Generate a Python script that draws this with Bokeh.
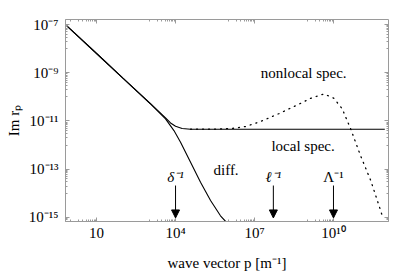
from bokeh.plotting import figure
from bokeh.models import (LogAxis, FixedTicker, Arrow, NormalHead, Range1d,
                          ColumnDataSource)
from bokeh.embed import file_html
from bokeh.resources import INLINE
from bokeh.core.properties import value

# ---------------- data ----------------
diff_p = [0.66, 10, 100, 1.12e3, 4.17e3, 8.7e3, 1.55e4, 3.72e4, 8.9e4, 2.14e5, 5.1e5, 8.5e5]
diff_r = [1.0e-7, 6.3e-9, 6.0e-10, 5.1e-11, 1.23e-11, 4.0e-12, 1.32e-12, 1.95e-13,
          2.9e-14, 5.0e-15, 1.17e-15, 6.3e-16]

local_p = [0.66, 10, 100, 1.12e3, 4.17e3, 6.46e3, 1.0e4, 1.78e4, 3.72e4, 8.9e11]
local_r = [1.0e-7, 6.3e-9, 6.0e-10, 5.2e-11, 1.35e-11, 8.3e-12, 6.0e-12, 4.9e-12,
           4.57e-12, 4.57e-12]

nonlocal_p = [3.72e4, 3.2e5, 1.6e6, 4.6e6, 1.7e7, 8.3e7, 4.2e8, 1.35e9, 4.3e9, 1.02e10,
              2.14e10, 4.5e10, 1.07e11, 2.6e11, 6.2e11, 7.1e11]
nonlocal_r = [4.57e-12, 4.57e-12, 5.0e-12, 5.9e-12, 9.5e-12, 2.0e-11, 4.6e-11, 8.7e-11,
              1.32e-10, 8.9e-11, 3.2e-11, 4.7e-12, 3.6e-13, 3.4e-14, 1.9e-15, 1.17e-15]

x_major = [1e1, 1e4, 1e7, 1e10]
x_major_labels = ["10", "10⁴", "10⁷", "10¹⁰"]
y_major = [1e-15, 1e-13, 1e-11, 1e-9, 1e-7]
y_major_labels = ["10⁻¹⁵", "10⁻¹³", "10⁻¹¹", "10⁻⁹", "10⁻⁷"]

arrow_p_italic = [1e4, 5.2e7]
arrow_labels_italic = ["δ⁻¹", "ℓ⁻¹"]
arrow_p_upright = [1e10]
arrow_labels_upright = ["Λ⁻¹"]
arrow_top = 2.1e-14
arrow_tip = 9.5e-16

curve_label_p = [8.3e5, 7.0e8, 7.4e8]
curve_label_r = [9.5e-14, 9.5e-13, 1.0e-9]
curve_labels = ["diff.", "local spec.", "nonlocal spec."]

x_title = "wave vector p [m⁻¹]"
y_title = "Im rₚ"

FONT = "Liberation Serif"
FS = "15px"
GRAY = "#9a9a9a"

# ---------------- ticks ----------------
x_minor = [j * m / 10 for m in x_major for j in range(1, 10)]
y_minor = [j * m / 10 for m in y_major for j in range(1, 10)]

p = figure(width=395, height=273, x_axis_type="log", y_axis_type="log",
           x_range=Range1d(10 ** -0.18, 10 ** 12.09),
           y_range=Range1d(10 ** -15.17, 10 ** -6.79),
           output_backend="svg", toolbar_location=None,
           min_border_left=65, min_border_right=7, min_border_top=19,
           min_border_bottom=52)

p.grid.visible = False
p.outline_line_color = GRAY
p.background_fill_color = "white"
p.border_fill_color = "white"


def style_main(ax):
    ax.axis_line_color = GRAY
    ax.major_tick_line_color = GRAY
    ax.minor_tick_line_color = GRAY
    ax.major_tick_in = 4
    ax.major_tick_out = 0
    ax.minor_tick_in = 2
    ax.minor_tick_out = 0
    ax.major_label_text_font = FONT
    ax.major_label_text_font_size = FS
    ax.major_label_text_color = "black"
    ax.axis_label_text_font = FONT
    ax.axis_label_text_font_size = FS
    ax.axis_label_text_font_style = "normal"
    ax.axis_label_text_color = "black"


xa = p.xaxis[0]
xa.ticker = FixedTicker(ticks=x_major, minor_ticks=x_minor)
xa.major_label_overrides = dict(zip(x_major, x_major_labels))
xa.axis_label = x_title
style_main(xa)
xa.major_label_standoff = 3
xa.axis_label_standoff = 11

ya = p.yaxis[0]
ya.ticker = FixedTicker(ticks=y_major, minor_ticks=y_minor)
ya.major_label_overrides = dict(zip(y_major, y_major_labels))
ya.axis_label = y_title
style_main(ya)
ya.major_label_standoff = 7
ya.axis_label_standoff = 4


def mirror_axis(tick_values, length):
    ax = LogAxis(ticker=FixedTicker(ticks=[], minor_ticks=tick_values))
    ax.axis_line_color = None
    ax.major_tick_line_color = None
    ax.minor_tick_line_color = GRAY
    ax.minor_tick_in = length
    ax.minor_tick_out = 0
    ax.major_tick_out = 0
    ax.major_tick_in = 0
    return ax


p.add_layout(mirror_axis(x_minor, 2), "above")
p.add_layout(mirror_axis(x_major, 4), "above")
p.add_layout(mirror_axis(y_minor, 2), "right")
p.add_layout(mirror_axis(y_major, 4), "right")

# ---------------- curves ----------------
p.line(diff_p, diff_r, line_color="black", line_width=1.1)
p.line(local_p, local_r, line_color="black", line_width=1.1)
p.line(nonlocal_p, nonlocal_r, line_color="black", line_width=1.3,
       line_dash="1 5", line_cap="round")

# ---------------- arrows ----------------
all_arrow_p = arrow_p_italic + arrow_p_upright
arrow_src = ColumnDataSource(dict(x0=all_arrow_p, x1=all_arrow_p,
                                  y0=[arrow_top] * len(all_arrow_p),
                                  y1=[arrow_tip] * len(all_arrow_p)))
p.add_layout(Arrow(source=arrow_src, x_start="x0", y_start="y0", x_end="x1", y_end="y1",
                   line_color="black", line_width=1,
                   end=NormalHead(size=8, fill_color="black", line_color="black")))

p.text(arrow_p_italic, [arrow_top] * len(arrow_p_italic), text=arrow_labels_italic,
       text_font=value(FONT), text_font_size=FS, text_font_style="italic",
       text_align="center", text_baseline="bottom", y_offset=-1, text_color="black")
p.text(arrow_p_upright, [arrow_top] * len(arrow_p_upright), text=arrow_labels_upright,
       text_font=value(FONT), text_font_size=FS,
       text_align="center", text_baseline="bottom", y_offset=-1, text_color="black")

p.text(curve_label_p, curve_label_r, text=curve_labels,
       text_font=value(FONT), text_font_size=FS,
       text_align="center", text_baseline="middle", text_color="black")

open("out.html", "w").write(file_html(p, INLINE))
